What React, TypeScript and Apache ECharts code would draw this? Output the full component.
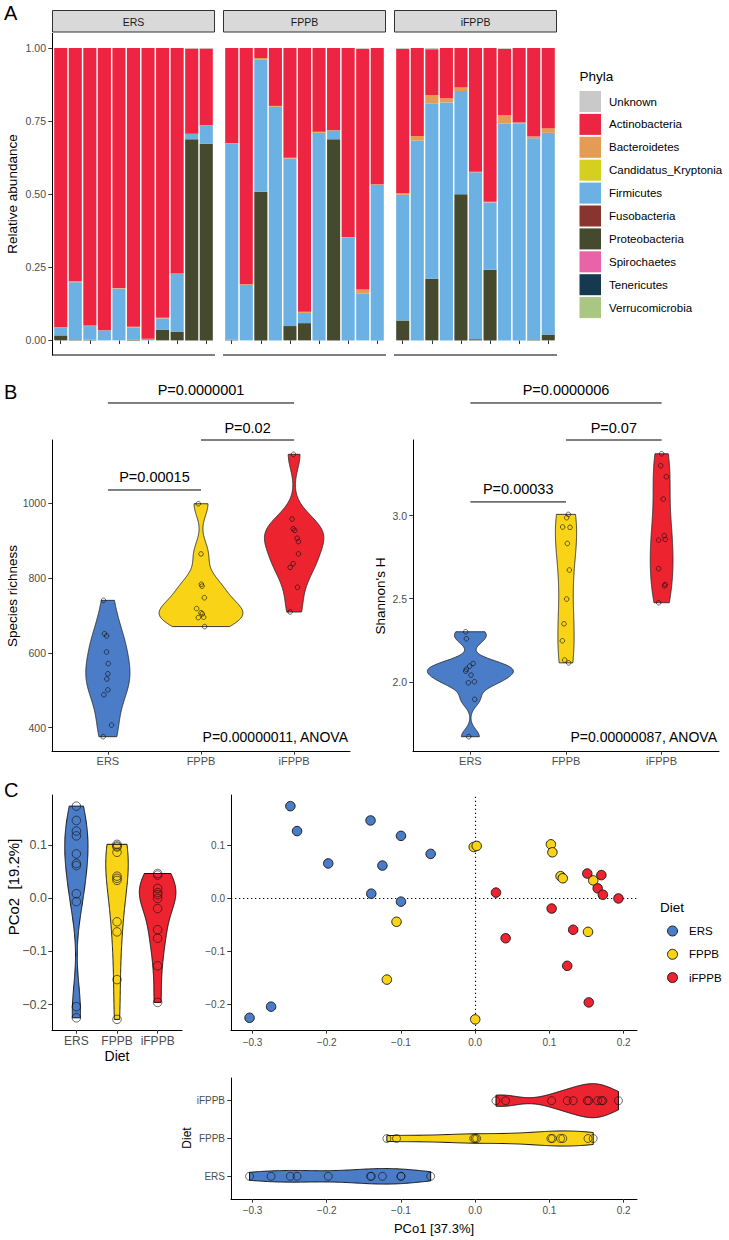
import React, { useEffect, useRef } from "react";
import * as echarts from "echarts";

const FONT = '"Liberation Sans", Arial, Helvetica, sans-serif';
const TICK_COLOR = "#4D4D4D";

// ---------------- shared categories ----------------
const dietGroups = ["ERS", "FPPB", "iFPPB"];
const dietColors = ["#4A7CC7", "#F9D316", "#ED2330"];
const dietPositions = [1, 2, 3];

// ---------------- Panel A: relative abundance ----------------
const sampleLabels = ["1", "2", "3", "4", "5", "6", "7", "8", "9", "10", "11"];
const phyla = [
  "Unknown", "Actinobacteria", "Bacteroidetes", "Candidatus_Kryptonia", "Firmicutes",
  "Fusobacteria", "Proteobacteria", "Spirochaetes", "Tenericutes", "Verrucomicrobia",
];
const phylaColors = [
  "#C9C9C9", "#EE2542", "#E39B55", "#D5CF1F", "#6BB1E3",
  "#883530", "#454A2E", "#E863A8", "#153A50", "#A9C683",
];
// 11 ERS samples, then 11 FPPB, then 11 iFPPB
const proteobacteria = [
  0.017, 0.003, 0.002, 0, 0, 0.002, 0, 0.037, 0.03, 0.688, 0.672,
  0.002, 0, 0.508, 0, 0.049, 0.059, 0, 0.688, 0, 0, 0,
  0.068, 0, 0.211, 0, 0.5, 0.004, 0.242, 0, 0, 0.003, 0.02,
];
const firmicutes = [
  0.026, 0.196, 0.047, 0.034, 0.177, 0.041, 0.005, 0.038, 0.198, 0.018, 0.063,
  0.67, 0.19, 0.452, 0.799, 0.573, 0.035, 0.71, 0.03, 0.353, 0.16, 0.532,
  0.43, 0.683, 0.599, 0.814, 0.353, 0.571, 0.23, 0.742, 0.743, 0.688, 0.69,
];
const bacteroidetes = [
  0.002, 0.003, 0.002, 0.001, 0.002, 0.004, 0.001, 0.002, 0.001, 0.001, 0.001,
  0.002, 0.002, 0.006, 0.003, 0.003, 0.004, 0.004, 0.001, 0.001, 0.014, 0.002,
  0.005, 0.016, 0.029, 0.014, 0.012, 0.002, 0.002, 0.028, 0.002, 0.006, 0.016,
];
const actinobacteria = [
  0.955, 0.798, 0.949, 0.965, 0.821, 0.953, 0.994, 0.923, 0.771, 0.291, 0.262,
  0.326, 0.808, 0.034, 0.198, 0.375, 0.902, 0.286, 0.281, 0.646, 0.823, 0.466,
  0.494, 0.301, 0.157, 0.172, 0.135, 0.423, 0.526, 0.227, 0.255, 0.303, 0.274,
];
const unknownPhylum = [
  0, 0, 0, 0, 0, 0, 0, 0, 0, 0.002, 0.002,
  0, 0, 0, 0, 0, 0, 0, 0, 0, 0.003, 0,
  0.003, 0, 0.004, 0, 0, 0, 0, 0.003, 0, 0, 0,
];
const abundanceByPhylum: Record<string, number[]> = {
  Proteobacteria: proteobacteria,
  Firmicutes: firmicutes,
  Bacteroidetes: bacteroidetes,
  Actinobacteria: actinobacteria,
  Unknown: unknownPhylum,
};
const stackOrder = ["Proteobacteria", "Firmicutes", "Bacteroidetes", "Actinobacteria", "Unknown"];
const abundanceTicks = [0, 0.25, 0.5, 0.75, 1];

// ---------------- Panel B: alpha diversity ----------------
const richnessERS = [740, 651, 645, 602, 571, 544, 530, 501, 488, 407, 376];
const richnessFPPB = [998, 864, 783, 778, 747, 718, 707, 704, 694, 695, 670];
const richnessIFPPB = [1130, 957, 931, 927, 906, 897, 864, 838, 828, 775, 709];
const richnessJitterERS = [-0.047, -0.036, -0.014, -0.014, 0.004, 0, -0.011, 0, -0.043, 0.039, -0.05];
const richnessJitterFPPB = [-0.029, 0, 0.004, 0.011, 0.036, -0.047, 0, 0.014, -0.029, 0.029, 0.039];
const richnessJitterIFPPB = [-0.007, -0.022, -0.011, 0.007, 0.032, 0.047, 0.047, -0.011, -0.043, 0.036, -0.043];
const richnessTicks = [400, 600, 800, 1000];

const shannonERS = [2.301, 2.259, 2.11, 2.094, 2.075, 2.064, 2.04, 2.0, 1.994, 1.894, 1.669];
const shannonFPPB = [3.008, 2.988, 2.932, 2.93, 2.833, 2.673, 2.498, 2.349, 2.247, 2.131, 2.114];
const shannonIFPPB = [3.373, 3.301, 3.235, 3.1, 2.88, 2.857, 2.853, 2.681, 2.586, 2.578, 2.476];
const shannonJitterERS = [-0.049, -0.042, 0.028, -0.007, -0.042, -0.049, 0.007, 0.042, -0.021, 0.045, -0.017];
const shannonJitterFPPB = [0.024, 0.007, -0.035, 0.042, 0.014, 0.035, 0.007, -0.021, -0.038, -0.014, 0.028];
const shannonJitterIFPPB = [0, -0.01, 0.049, 0.017, 0.028, 0.038, -0.031, -0.031, 0.038, 0.031, -0.031];
const shannonTicks = [2.0, 2.5, 3.0];

const richnessBrackets = [
  { from: 1, to: 2, y: 1034.7, label: "P=0.00015" },
  { from: 2, to: 3, y: 1168.2, label: "P=0.02" },
  { from: 1, to: 3, y: 1267, label: "P=0.0000001" },
];
const shannonBrackets = [
  { from: 1, to: 2, y: 3.083, label: "P=0.00033" },
  { from: 2, to: 3, y: 3.456, label: "P=0.07" },
  { from: 1, to: 3, y: 3.679, label: "P=0.0000006" },
];
const anovaRichness = "P=0.00000011, ANOVA";
const anovaShannon = "P=0.00000087, ANOVA";

// ---------------- Panel C: PCoA ----------------
const pco1ERS = [-0.249, -0.24, -0.198, -0.141, -0.1, -0.06, -0.125, -0.14, -0.1, -0.275, -0.304];
const pco2ERS = [0.174, 0.127, 0.066, 0.147, 0.118, 0.084, 0.062, 0.009, -0.006, -0.204, -0.225];
const pco1FPPB = [-0.002, 0.002, 0.102, 0.104, 0.115, 0.118, 0.159, 0.152, -0.106, -0.119, 0.0];
const pco2FPPB = [0.097, 0.099, 0.102, 0.087, 0.042, 0.038, 0.034, -0.063, -0.044, -0.153, -0.228];
const pco1IFPPB = [0.028, 0.041, 0.103, 0.132, 0.124, 0.151, 0.17, 0.165, 0.172, 0.193, 0.153];
const pco2IFPPB = [0.011, -0.075, -0.019, -0.059, -0.127, 0.047, 0.044, 0.019, 0.007, 0.0, -0.196];
const pcoTicks1 = [-0.3, -0.2, -0.1, 0, 0.1, 0.2];
const pcoTicks2 = [-0.2, -0.1, 0, 0.1];

// ---------------- helpers ----------------
function quantile(s: number[], p: number) {
  const h = (s.length - 1) * p;
  const lo = Math.floor(h);
  const hi = Math.ceil(h);
  return s[lo] + (h - lo) * (s[hi] - s[lo]);
}
function bwNrd0(x: number[]) {
  const n = x.length;
  const mean = x.reduce((a, b) => a + b, 0) / n;
  const sd = Math.sqrt(x.reduce((a, b) => a + (b - mean) * (b - mean), 0) / (n - 1));
  const s = [...x].sort((a, b) => a - b);
  const iqr = quantile(s, 0.75) - quantile(s, 0.25);
  let lo = Math.min(sd, iqr / 1.34);
  if (!(lo > 0)) lo = sd || 1;
  return 0.9 * lo * Math.pow(n, -0.2);
}
function density(x: number[], m = 200) {
  const bw = bwNrd0(x);
  const s = [...x].sort((a, b) => a - b);
  const min = s[0];
  const max = s[s.length - 1];
  const out: number[][] = [];
  for (let i = 0; i < m; i++) {
    const t = min + ((max - min) * i) / (m - 1);
    let d = 0;
    for (const xi of x) {
      const z = (t - xi) / bw;
      d += Math.exp(-0.5 * z * z);
    }
    out.push([t, d / (x.length * bw * Math.sqrt(2 * Math.PI))]);
  }
  return out;
}
// ggplot2 scale = "area": widths relative to the largest density in the panel, width 0.9
function violinShapes(groups: number[][]) {
  const dens = groups.map((g) => density(g));
  let mx = 0;
  dens.forEach((d) => d.forEach((p) => (mx = Math.max(mx, p[1]))));
  return dens.map((d) => d.map(([t, v]) => [t, (0.45 * v) / mx]));
}
const fmt1 = (v: number) => (v < 0 ? "\u2212" + Math.abs(v).toFixed(1) : Math.abs(v).toFixed(1));

function valueAxis(o: any) {
  return {
    type: "value",
    gridIndex: o.gridIndex,
    min: o.min,
    max: o.max,
    offset: o.offset || 0,
    axisLine: { show: true, onZero: false, lineStyle: { color: "#000", width: 1 } },
    axisTick: {
      show: true,
      length: 3.7,
      customValues: o.ticks,
      lineStyle: { color: "#333", width: 1 },
    },
    axisLabel: {
      show: o.labels !== false,
      customValues: o.ticks,
      fontSize: o.fontSize || 10,
      color: TICK_COLOR,
      fontFamily: FONT,
      margin: o.margin || 5,
      formatter: o.formatter,
    },
    splitLine: { show: false },
    splitArea: { show: false },
  };
}

function text(t: string, x: number, y: number, size: number, o: any = {}) {
  const align = o.align || "left";
  return {
    type: "text",
    x,
    y,
    rotation: o.rot || 0,
    z: 100,
    silent: true,
    style: {
      text: t,
      fontSize: size,
      fontFamily: FONT,
      fill: o.color || "#000",
      align,
      verticalAlign: "middle",
      textAlign: align,
      textVerticalAlign: "middle",
    },
  };
}

function buildOption() {
  const grid: any[] = [];
  const xAxis: any[] = [];
  const yAxis: any[] = [];
  const series: any[] = [];
  const graphic: any[] = [];
  const addGrid = (left: number, top: number, width: number, height: number) => {
    grid.push({ left, top, width, height, containLabel: false, outerBoundsMode: "none" });
    return grid.length - 1;
  };

  // ---------- Panel A ----------
  const FACET_LEFT = [52, 223, 394];
  const FACET_W = 163;
  const A_TOP = 33.4;
  const A_H = 321.6;
  const band = FACET_W / 11.2;
  dietGroups.forEach((diet, f) => {
    const gi = addGrid(FACET_LEFT[f] + 0.1 * band, A_TOP, FACET_W - 0.2 * band, A_H);
    xAxis.push({
      type: "category",
      gridIndex: gi,
      data: sampleLabels,
      boundaryGap: true,
      axisLine: { show: false },
      axisTick: { show: true, alignWithLabel: true, length: 3.7, lineStyle: { color: "#333", width: 1 } },
      axisLabel: { show: false },
      splitLine: { show: false },
    });
    if (f === 0) {
      yAxis.push(
        valueAxis({
          gridIndex: gi, min: -0.05, max: 1.05, ticks: abundanceTicks, fontSize: 10.5,
          margin: 6, offset: 0.1 * band, formatter: (v: number) => v.toFixed(2),
        })
      );
    } else {
      yAxis.push({ type: "value", gridIndex: gi, min: -0.05, max: 1.05, show: false, splitLine: { show: false } });
    }
    stackOrder.forEach((name) => {
      const arr = abundanceByPhylum[name];
      series.push({
        type: "bar",
        name,
        xAxisIndex: gi,
        yAxisIndex: gi,
        stack: "facet" + f,
        barCategoryGap: "10%",
        silent: true,
        emphasis: { disabled: true },
        itemStyle: { color: phylaColors[phyla.indexOf(name)] },
        data: arr.slice(f * 11, f * 11 + 11),
      });
    });
    // facet axis line and strip
    graphic.push({
      type: "line", silent: true, z: 50,
      shape: { x1: FACET_LEFT[f], y1: A_TOP + A_H, x2: FACET_LEFT[f] + FACET_W, y2: A_TOP + A_H },
      style: { stroke: "#000", lineWidth: 1 },
    });
    graphic.push({
      type: "rect", silent: true, z: 50,
      shape: { x: FACET_LEFT[f] + 0.5, y: 10.5, width: FACET_W - 1, height: 21.5 },
      style: { fill: "#D9D9D9", stroke: "#333", lineWidth: 1 },
    });
    graphic.push(text(diet, FACET_LEFT[f] + FACET_W / 2, 21.5, 10.5, { align: "center", color: "#1A1A1A" }));
  });
  graphic.push(text("A", 4, 13, 20));
  graphic.push(text("Relative abundance", 12, 194, 13.5, { align: "center", rot: Math.PI / 2 }));
  // Phyla legend
  graphic.push(text("Phyla", 579.5, 76, 13.5));
  phyla.forEach((p, i) => {
    const top = 91 + i * 22.9;
    graphic.push({
      type: "rect", silent: true, z: 50,
      shape: { x: 579.5, y: top, width: 21.5, height: 21 },
      style: { fill: phylaColors[i] },
    });
    graphic.push(text(p, 609, top + 10.5, 11.5));
  });

  // ---------- Panel B ----------
  const bPanels = [
    {
      left: 52, width: 298, min: 337.8, max: 1168.2, ticks: richnessTicks,
      fmt: (v: number) => String(v), groups: [richnessERS, richnessFPPB, richnessIFPPB],
      jit: [richnessJitterERS, richnessJitterFPPB, richnessJitterIFPPB], brackets: richnessBrackets,
      title: "Species richness", titleX: 12, anova: anovaRichness,
    },
    {
      left: 413, width: 306, min: 1.583, max: 3.456, ticks: shannonTicks,
      fmt: (v: number) => v.toFixed(1), groups: [shannonERS, shannonFPPB, shannonIFPPB],
      jit: [shannonJitterERS, shannonJitterFPPB, shannonJitterIFPPB], brackets: shannonBrackets,
      title: "Shannon's H", titleX: 380, anova: anovaShannon,
    },
  ];
  const B_TOP = 440;
  const B_H = 311;
  bPanels.forEach((P) => {
    const gi = addGrid(P.left, B_TOP, P.width, B_H);
    xAxis.push(
      valueAxis({
        gridIndex: gi, min: 0.4, max: 3.6, ticks: dietPositions, fontSize: 11, margin: 4.5,
        formatter: (v: number) => dietGroups[Math.round(v) - 1],
      })
    );
    yAxis.push(valueAxis({ gridIndex: gi, min: P.min, max: P.max, ticks: P.ticks, fontSize: 10.5, margin: 6, formatter: P.fmt }));
    const shapes = violinShapes(P.groups);
    series.push({
      type: "custom",
      coordinateSystem: "cartesian2d",
      xAxisIndex: gi,
      yAxisIndex: gi,
      silent: true,
      data: dietPositions.map((p) => [p, (P.min + P.max) / 2]),
      renderItem: (params: any, api: any) => {
        const g = params.dataIndex;
        const pos = dietPositions[g];
        const sh = shapes[g];
        const right = sh.map(([t, w]) => api.coord([pos + w, t]));
        const left = sh.slice().reverse().map(([t, w]) => api.coord([pos - w, t]));
        return {
          type: "polygon",
          shape: { points: right.concat(left) },
          style: { fill: dietColors[g], stroke: "#2B2B2B", lineWidth: 0.9 },
        };
      },
    });
    P.groups.forEach((vals, g) => {
      series.push({
        type: "scatter",
        name: "pts-" + P.title + g,
        xAxisIndex: gi,
        yAxisIndex: gi,
        silent: true,
        symbol: "circle",
        symbolSize: 4.6,
        emphasis: { disabled: true },
        itemStyle: { color: "rgba(0,0,0,0)", borderColor: "#111", borderWidth: 0.8 },
        data: vals.map((v, i) => [dietPositions[g] + P.jit[g][i], v]),
        z: 5,
      });
    });
    series.push({
      type: "custom",
      coordinateSystem: "cartesian2d",
      xAxisIndex: gi,
      yAxisIndex: gi,
      silent: true,
      clip: false,
      data: P.brackets.map((b) => [b.from, b.y]),
      renderItem: (params: any, api: any) => {
        const b = P.brackets[params.dataIndex];
        const p1 = api.coord([b.from, b.y]);
        const p2 = api.coord([b.to, b.y]);
        return {
          type: "group",
          children: [
            { type: "line", shape: { x1: p1[0], y1: p1[1], x2: p2[0], y2: p2[1] }, style: { stroke: "#000", lineWidth: 1 } },
            {
              type: "text",
              x: (p1[0] + p2[0]) / 2,
              y: p1[1] - 12.5,
              style: {
                text: b.label, fontSize: 14.5, fontFamily: FONT, fill: "#000",
                align: "center", verticalAlign: "middle", textAlign: "center", textVerticalAlign: "middle",
              },
            },
          ],
        };
      },
    });
    graphic.push(text(P.title, P.titleX, 596, 13.5, { align: "center", rot: Math.PI / 2 }));
    graphic.push(text(P.anova, P.left + P.width - 2, 737, 14, { align: "right" }));
  });
  graphic.push(text("B", 4, 392, 20));

  // ---------- Panel C ----------
  const C_TOP = 795;
  const C_H = 235;
  const Y2MIN = -0.248;
  const Y2MAX = 0.195;
  const X1MIN = -0.329;
  const X1MAX = 0.218;
  const pc1 = [pco1ERS, pco1FPPB, pco1IFPPB];
  const pc2 = [pco2ERS, pco2FPPB, pco2IFPPB];

  // left violins (PCo2)
  {
    const gi = addGrid(52, C_TOP, 130, C_H);
    xAxis.push(
      valueAxis({
        gridIndex: gi, min: 0.4, max: 3.6, ticks: dietPositions, fontSize: 12, margin: 5,
        formatter: (v: number) => dietGroups[Math.round(v) - 1],
      })
    );
    yAxis.push(valueAxis({ gridIndex: gi, min: Y2MIN, max: Y2MAX, ticks: pcoTicks2, fontSize: 12.5, margin: 5, formatter: fmt1 }));
    const shapes = violinShapes(pc2);
    series.push({
      type: "custom", coordinateSystem: "cartesian2d", xAxisIndex: gi, yAxisIndex: gi, silent: true,
      data: dietPositions.map((p) => [p, 0]),
      renderItem: (params: any, api: any) => {
        const g = params.dataIndex;
        const pos = dietPositions[g];
        const sh = shapes[g];
        const right = sh.map(([t, w]) => api.coord([pos + w, t]));
        const left = sh.slice().reverse().map(([t, w]) => api.coord([pos - w, t]));
        return {
          type: "polygon",
          shape: { points: right.concat(left) },
          style: { fill: dietColors[g], stroke: "#111", lineWidth: 1 },
        };
      },
    });
    pc2.forEach((vals, g) => {
      series.push({
        type: "scatter", name: "pc2-" + g, xAxisIndex: gi, yAxisIndex: gi, silent: true,
        symbol: "circle", symbolSize: 8.5, emphasis: { disabled: true },
        itemStyle: { color: "rgba(0,0,0,0)", borderColor: "#111", borderWidth: 0.8 },
        data: vals.map((v) => [dietPositions[g], v]), z: 5,
      });
    });
    graphic.push(text("PCo2  [19.2%]", 13, 887, 15, { align: "center", rot: Math.PI / 2 }));
    graphic.push(text("Diet", 117, 1056, 14, { align: "center" }));
  }

  // scatter
  {
    const gi = addGrid(231, C_TOP, 406, C_H);
    xAxis.push(valueAxis({ gridIndex: gi, min: X1MIN, max: X1MAX, ticks: pcoTicks1, fontSize: 10, margin: 7, formatter: fmt1 }));
    yAxis.push(valueAxis({ gridIndex: gi, min: Y2MIN, max: Y2MAX, ticks: pcoTicks2, fontSize: 10, margin: 6, formatter: fmt1 }));
    dietGroups.forEach((diet, g) => {
      series.push({
        type: "scatter", name: diet, xAxisIndex: gi, yAxisIndex: gi, silent: true,
        symbol: "circle", symbolSize: 9.5, emphasis: { disabled: true },
        itemStyle: { color: dietColors[g], borderColor: "#111", borderWidth: 0.9, opacity: 1 },
        data: pc1[g].map((x, i) => [x, pc2[g][i]]),
        z: 5,
        markLine:
          g === 2
            ? {
                silent: true,
                symbol: ["none", "none"],
                label: { show: false },
                lineStyle: { color: "#000", type: [1.3, 2.7], width: 1.1 },
                emphasis: { disabled: true },
                data: [{ xAxis: 0 }, { yAxis: 0 }],
              }
            : undefined,
      });
    });
    // legend
    graphic.push(text("Diet", 660, 907, 13.5));
    dietGroups.forEach((diet, g) => {
      const cy = 931 + g * 23.3;
      graphic.push({
        type: "circle", silent: true, z: 50,
        shape: { cx: 672.5, cy, r: 5 },
        style: { fill: dietColors[g], stroke: "#111", lineWidth: 0.9 },
      });
      graphic.push(text(diet, 689, cy, 11.5));
    });
  }

  // bottom violins (PCo1)
  {
    const gi = addGrid(231, 1078, 406, 121);
    xAxis.push(valueAxis({ gridIndex: gi, min: X1MIN, max: X1MAX, ticks: pcoTicks1, fontSize: 10, margin: 6, formatter: fmt1 }));
    yAxis.push(
      valueAxis({
        gridIndex: gi, min: 0.4, max: 3.6, ticks: dietPositions, fontSize: 10, margin: 6,
        formatter: (v: number) => dietGroups[Math.round(v) - 1],
      })
    );
    const shapes = violinShapes(pc1);
    series.push({
      type: "custom", coordinateSystem: "cartesian2d", xAxisIndex: gi, yAxisIndex: gi, silent: true,
      data: dietPositions.map((p) => [0, p]),
      renderItem: (params: any, api: any) => {
        const g = params.dataIndex;
        const pos = dietPositions[g];
        const sh = shapes[g];
        const top = sh.map(([t, w]) => api.coord([t, pos + w]));
        const bottom = sh.slice().reverse().map(([t, w]) => api.coord([t, pos - w]));
        return {
          type: "polygon",
          shape: { points: top.concat(bottom) },
          style: { fill: dietColors[g], stroke: "#111", lineWidth: 1 },
        };
      },
    });
    pc1.forEach((vals, g) => {
      series.push({
        type: "scatter", name: "pc1-" + g, xAxisIndex: gi, yAxisIndex: gi, silent: true,
        symbol: "circle", symbolSize: 8, emphasis: { disabled: true },
        itemStyle: { color: "rgba(0,0,0,0)", borderColor: "#111", borderWidth: 0.8 },
        data: vals.map((v) => [v, dietPositions[g]]), z: 5,
      });
    });
    graphic.push(text("Diet", 187, 1138, 12, { align: "center", rot: Math.PI / 2 }));
    graphic.push(text("PCo1 [37.3%]", 434, 1228, 13, { align: "center" }));
  }
  graphic.push(text("C", 4, 790, 20));

  return {
    animation: false,
    backgroundColor: "#fff",
    textStyle: { fontFamily: FONT },
    grid,
    xAxis,
    yAxis,
    series,
    graphic: { elements: graphic },
  };
}

export default function App() {
  const ref = useRef<HTMLDivElement>(null);
  useEffect(() => {
    document.body.style.margin = "0";
    const chart = echarts.init(ref.current!, null, { renderer: "svg", width: 729, height: 1240 });
    chart.setOption(buildOption() as any);
    return () => chart.dispose();
  }, []);
  return <div ref={ref} style={{ width: 729, height: 1240, background: "#fff" }} />;
}
